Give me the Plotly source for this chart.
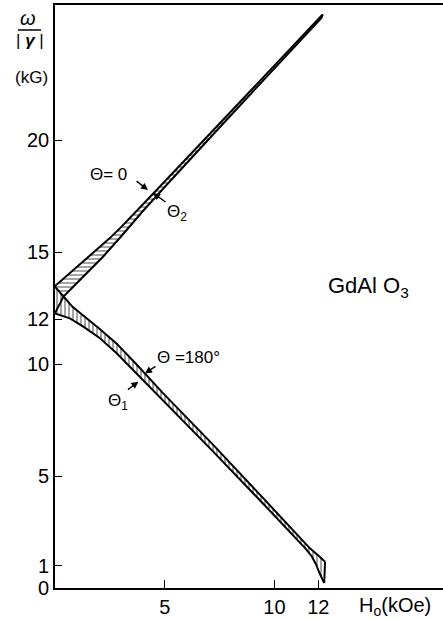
import plotly.graph_objects as go

# ---- data (H0 in kOe, omega/|gamma| in kG) ----
# upper band: Theta = 0 (upper edge) and Theta_2 (lower edge)
up_top_h = [0, 0.5, 1.0, 1.5, 2.0, 2.5, 3.0, 3.5, 4.0, 5.0, 6.0, 7.52, 9.0, 10.5, 12.2]
up_top_w = [13.48, 13.9, 14.32, 14.74, 15.17, 15.62, 16.1, 16.6, 17.12, 18.15, 19.18, 20.75, 22.28, 23.85, 25.6]
up_bot_h = [0.38, 0.83, 1.44, 2.2, 3.0, 4.0, 5.0, 6.0, 7.52, 9.0, 10.5, 12.15]
up_bot_w = [13.0, 13.45, 14.05, 14.8, 15.68, 16.82, 17.9, 18.98, 20.58, 22.14, 23.73, 25.45]
theta2_start_h = [0]
theta2_start_w = [12.27]

# lower band: Theta = 180 deg (upper edge) and Theta_1 (lower edge)
lo_top_h = [0, 0.38, 0.8, 1.3, 2.0, 2.8, 3.7, 4.9, 7.2, 9.5, 11.62, 12.0, 12.31]
lo_top_w = [13.45, 13.0, 12.55, 12.15, 11.6, 10.92, 10.0, 8.72, 6.4, 4.0, 1.77, 1.45, 1.17]
lo_bot_h = [0, 0.68, 1.29, 2.05, 2.81, 3.72, 4.79, 7.2, 9.5, 11.0, 11.4, 11.7, 11.9, 12.05, 12.17, 12.27]
lo_bot_w = [12.26, 12.04, 11.67, 11.15, 10.48, 9.58, 8.5, 6.1, 3.75, 2.2, 1.78, 1.42, 1.05, 0.68, 0.4, 0.22]

x_ticks = [5, 10, 12]
y_ticks = [0, 1, 5, 10, 12, 15, 20]

FONT = "Liberation Sans"
fig = go.Figure()

# upper band polygon: top edge, then lower boundary (Theta_2 down to crossing, then lower-band top)
up_poly_x = up_top_h + up_bot_h[::-1] + [lo_top_h[0]]
up_poly_y = up_top_w + up_bot_w[::-1] + [lo_top_w[0]]
fig.add_trace(go.Scatter(x=up_poly_x, y=up_poly_y, fill="toself", mode="none",
                         fillcolor="white",
                         fillpattern=dict(shape="-", fgcolor="black", bgcolor="white",
                                          size=4, solidity=0.35),
                         hoverinfo="skip", showlegend=False))
# lower band polygon
lo_poly_x = lo_top_h + lo_bot_h[::-1]
lo_poly_y = lo_top_w + lo_bot_w[::-1]
fig.add_trace(go.Scatter(x=lo_poly_x, y=lo_poly_y, fill="toself", mode="none",
                         fillcolor="white",
                         fillpattern=dict(shape="|", fgcolor="black", bgcolor="white",
                                          size=4, solidity=0.35),
                         hoverinfo="skip", showlegend=False))

line = dict(color="black", width=2)
for xs, ys in [(up_top_h, up_top_w),
               (theta2_start_h + up_bot_h, theta2_start_w + up_bot_w),
               (lo_top_h, lo_top_w), (lo_bot_h, lo_bot_w),
               ([up_top_h[-1], up_bot_h[-1]], [up_top_w[-1], up_bot_w[-1]]),
               ([lo_top_h[-1], lo_bot_h[-1]], [lo_top_w[-1], lo_bot_w[-1]])]:
    fig.add_trace(go.Scatter(x=xs, y=ys, mode="lines", line=line,
                             hoverinfo="skip", showlegend=False))

tf = dict(family=FONT, size=17, color="black")
ann = []
# arrows
for hx, hy, ax, ay in [(4.24, 17.77, -13, -10), (4.47, 17.63, 14, 10),
                       (4.10, 9.58, 12, -8), (3.80, 9.21, -12, 9)]:
    ann.append(dict(x=hx, y=hy, ax=ax, ay=ay, text="", showarrow=True,
                    arrowhead=2, arrowsize=1, arrowwidth=1.4, arrowcolor="black"))
ann += [
    dict(x=2.42, y=18.44, text="Θ= 0", showarrow=False, font=tf),
    dict(x=5.55, y=16.75, text="Θ<sub>2</sub>", showarrow=False, font=tf),
    dict(x=6.1, y=10.27, text="Θ =180°", showarrow=False, font=tf),
    dict(x=2.87, y=8.3, text="Θ<sub>1</sub>", showarrow=False, font=tf),
    dict(x=14.31, y=13.44, text="GdAl O<sub>3</sub>", showarrow=False,
         font=dict(family=FONT, size=22, color="black")),
]
# axis titles (paper coords; plot area spans x 55..443 px, y 5..588 px)
def px(xp):
    return (xp - 55) / 388.0
def py(yp):
    return (588 - yp) / 583.0
ann += [
    dict(xref="paper", yref="paper", x=px(395), y=py(606), text="H<sub>o</sub>(kOe)",
         showarrow=False, font=dict(family=FONT, size=20, color="black")),
    dict(xref="paper", yref="paper", x=px(28), y=py(18), text="<i>ω</i>",
         showarrow=False, font=dict(family=FONT, size=20, color="black")),
    dict(xref="paper", yref="paper", x=px(30), y=py(41), text="| <b><i>γ</i></b> |",
         showarrow=False, font=dict(family=FONT, size=17, color="black")),
    dict(xref="paper", yref="paper", x=px(31), y=py(77), text="(kG)",
         showarrow=False, font=dict(family=FONT, size=17, color="black")),
]
for a in ann:
    if a.get("xref") == "paper":
        a["xanchor"] = "center"
        a["yanchor"] = "middle"
fig.update_layout(annotations=ann)
fig.add_shape(type="line", xref="paper", yref="paper", x0=px(18), x1=px(41),
              y0=py(30), y1=py(30), line=dict(color="black", width=1.5))

fig.update_xaxes(range=[0, 388 / 21.94], tickvals=x_ticks, ticktext=[str(v) for v in x_ticks],
                 ticks="inside", ticklen=8, tickwidth=1, tickcolor="black",
                 showline=True, linecolor="black", linewidth=1.6, mirror=True,
                 showgrid=False, zeroline=False,
                 tickfont=dict(family=FONT, size=20, color="black"))
fig.update_yaxes(range=[0, 583 / 22.4], tickvals=y_ticks, ticktext=[str(v) for v in y_ticks],
                 ticks="inside", ticklen=7, tickwidth=1, tickcolor="black",
                 showline=True, linecolor="black", linewidth=1.6, mirror=False,
                 showgrid=False, zeroline=False,
                 tickfont=dict(family=FONT, size=20, color="black"))
fig.update_layout(width=443, height=618, margin=dict(l=55, r=0, t=5, b=30),
                  plot_bgcolor="white", paper_bgcolor="white")
fig.write_html("out.html")
